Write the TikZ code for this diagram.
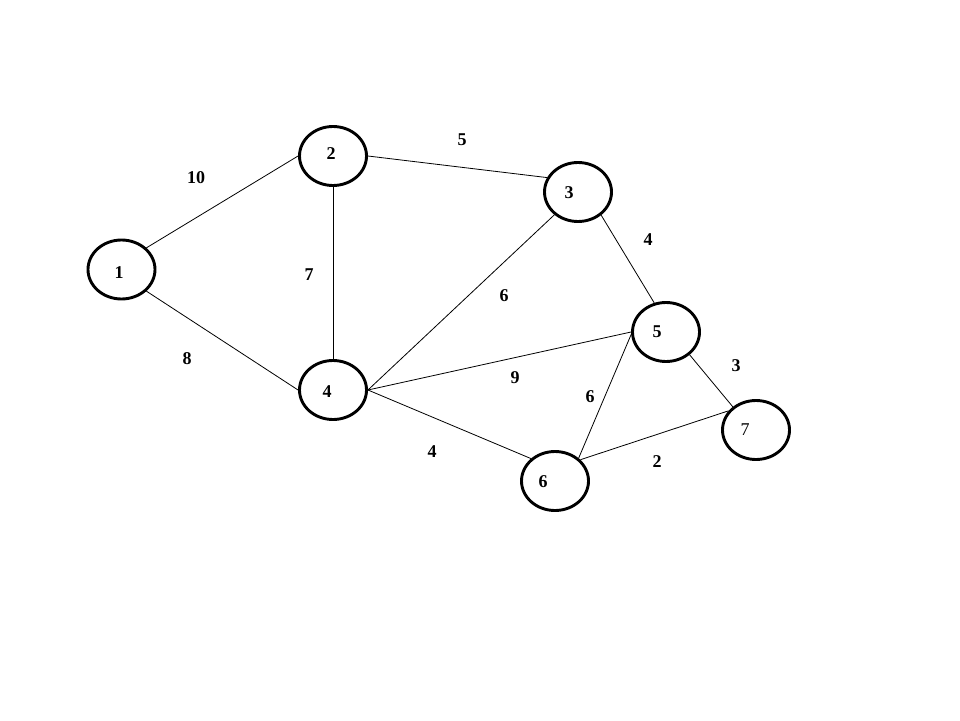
\documentclass[tikz,border=0pt]{standalone}
\usepackage{fontspec}
\setmainfont{Liberation Serif}
\usepackage{tikz}
\usetikzlibrary{shapes.geometric, positioning}

\begin{document}
\begin{tikzpicture}[
  x=1pt, y=-1pt,
  vertex/.style={ellipse, draw=black, line width=2.9pt, minimum width=67pt, minimum height=59pt, inner sep=0pt},
  vname/.style={font=\fontsize{18}{21}\selectfont\bfseries, inner sep=0pt},
  weight/.style={font=\fontsize{18}{21}\selectfont\bfseries, inner sep=0pt},
  edge/.style={line width=0.8pt}
]
\useasboundingbox[fill=white] (0,0) rectangle (960,720);

% --- Knoten ---
\node[vertex] (v1) at (121.5,269.5) {};
\node[vertex] (v2) at (333,156) {};
\node[vertex] (v3) at (578,192) {};
\node[vertex] (v4) at (333,390) {};
\node[vertex] (v5) at (666,332) {};
\node[vertex] (v6) at (555,481) {};
\node[vertex] (v7) at (756,430) {};

\node[vname] (t1) at (119,273) {1};
\node[vname] (t2) at (331,154) {2};
\node[vname] (t3) at (569,193) {3};
\node[vname] (t4) at (327,392) {4};
\node[vname] (t5) at (657,332) {5};
\node[vname] (t6) at (543,482) {6};
\node[vname, font=\fontsize{18}{21}\selectfont] (t7) at (745,430) {7};

% --- Kanten ---
\draw[edge] (v1.41) -- (v2.180);
\draw[edge] (v1.-41) -- (v4.180);
\draw[edge] (v2.east) -- (v3.155);
\draw[edge] (v2.south) -- (v4.north);
\draw[edge] (v3.224) -- (v4.east);
\draw[edge] (v3.-45) -- (v5.112);
\draw[edge] (v4.east) -- (v5.180);
\draw[edge] (v4.east) -- (v6.137);
\draw[edge] (v5.184) -- (v6.44);
\draw[edge] (v5.-44) -- (v7.135);
\draw[edge] (v6.40) -- (v7.145);

% --- Gewichte ---
\node[weight] (w12) at (196,178) {10};
\node[weight] (w14) at (187,359) {8};
\node[weight] (w23) at (462,140) {5};
\node[weight] (w24) at (309,275) {7};
\node[weight] (w34) at (504,296) {6};
\node[weight] (w35) at (648,240) {4};
\node[weight] (w45) at (515,378) {9};
\node[weight] (w46) at (432,452) {4};
\node[weight] (w56) at (590,397) {6};
\node[weight] (w57) at (736,366) {3};
\node[weight] (w67) at (657,462) {2};
\end{tikzpicture}
\end{document}
